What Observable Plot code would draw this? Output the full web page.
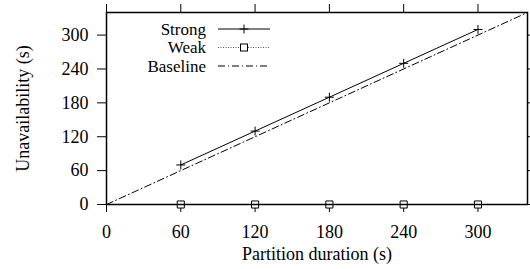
<!DOCTYPE html>
<html><head><meta charset="utf-8">
<script src="https://cdn.jsdelivr.net/npm/d3@7"></script>
<script src="https://cdn.jsdelivr.net/npm/@observablehq/plot@0.6"></script>
<style>body{margin:0;background:#fff;}</style>
</head>
<body><div id="chart"></div>
<script>
const durations = [60, 120, 180, 240, 300];
const strong = [70, 130, 190, 250, 310];
const weak = [0, 0, 0, 0, 0];
const baselineX = [0, 340];
const baselineY = [0, 340];
const xTicks = [0, 60, 120, 180, 240, 300];
const yTicks = [0, 60, 120, 180, 240, 300];
const legendNames = ["Strong", "Weak", "Baseline"];

const strongData = durations.map((d, i) => ({x: d, y: strong[i]}));
const weakData = durations.map((d, i) => ({x: d, y: weak[i]}));
const baseData = baselineX.map((d, i) => ({x: d, y: baselineY[i]}));

const plus = {draw(ctx, size){ const r = Math.sqrt(size / Math.PI); ctx.moveTo(-r,0); ctx.lineTo(r,0); ctx.moveTo(0,-r); ctx.lineTo(0,r);} };

const chart = Plot.plot({
  width: 530, height: 269,
  marginLeft: 106, marginRight: 3, marginTop: 12, marginBottom: 65,
  style: {fontSize: "18px", color: "black", background: "white"},
  x: {domain: [0, 340]},
  y: {domain: [0, 340]},
  marks: [
    Plot.axisX({anchor: "bottom", ticks: xTicks, tickSize: 8, tickPadding: 13, label: "Partition duration (s)", labelAnchor: "center", labelArrow: "none", labelOffset: 55, fontSize: 18}),
    Plot.axisX({anchor: "top", ticks: xTicks, tickSize: 9, tickFormat: () => "", label: null}),
    Plot.axisY({anchor: "left", ticks: yTicks, tickSize: 9, tickPadding: 9, label: "Unavailability (s)", labelAnchor: "center", labelArrow: "none", labelOffset: 90, fontSize: 18}),
    Plot.axisY({anchor: "right", ticks: yTicks, tickSize: 9, tickFormat: () => "", label: null}),
    Plot.line(baseData, {x: "x", y: "y", stroke: "black", strokeWidth: 1, strokeDasharray: "7,3,1,3"}),
    Plot.line(weakData, {x: "x", y: "y", stroke: "#555", strokeWidth: 1, strokeDasharray: "1,1.5"}),
    Plot.dot(weakData, {x: "x", y: "y", symbol: "square", r: 4, stroke: "black", fill: "white", strokeWidth: 1}),
    Plot.line(strongData, {x: "x", y: "y", stroke: "black", strokeWidth: 1}),
    Plot.dot(strongData, {x: "x", y: "y", symbol: plus, r: 4.5, stroke: "black", strokeWidth: 1}),
    Plot.frame({stroke: "black", strokeWidth: 1.5})
  ]
});
document.getElementById("chart").appendChild(chart);

// legend
const svg = d3.select(chart);
const lg = svg.append("g").attr("font-size", 17);
const rowY = [29, 47.5, 66];
const styles = [
  {stroke: "black", dash: null, marker: "plus"},
  {stroke: "#555", dash: "1,1.5", marker: "square"},
  {stroke: "black", dash: "7,3,1,3", marker: null}
];
legendNames.forEach((name, i) => {
  const y = rowY[i];
  lg.append("text").attr("x", 206).attr("y", y).attr("dy", "0.33em").attr("text-anchor", "end").attr("fill", "black").text(name);
  lg.append("line").attr("x1", 218).attr("x2", 270).attr("y1", y).attr("y2", y)
    .attr("stroke", styles[i].stroke).attr("stroke-width", 1).attr("stroke-dasharray", styles[i].dash);
  if (styles[i].marker === "plus") {
    lg.append("path").attr("d", `M244,${y-4.5}V${y+4.5}M239.5,${y}H248.5`).attr("stroke", "black").attr("fill", "none");
  } else if (styles[i].marker === "square") {
    lg.append("rect").attr("x", 244-3.5).attr("y", y-3.5).attr("width", 7).attr("height", 7).attr("stroke", "black").attr("fill", "white");
  }
});
svg.attr("font-family", "Liberation Serif");
svg.selectAll("g").attr("font-variant", null).style("font-variant", "normal");
svg.selectAll("text").attr("font-family", "Liberation Serif").attr("font-variant", null)
  .style("font-family", "Liberation Serif").style("font-variant", "normal");
</script></body></html>
